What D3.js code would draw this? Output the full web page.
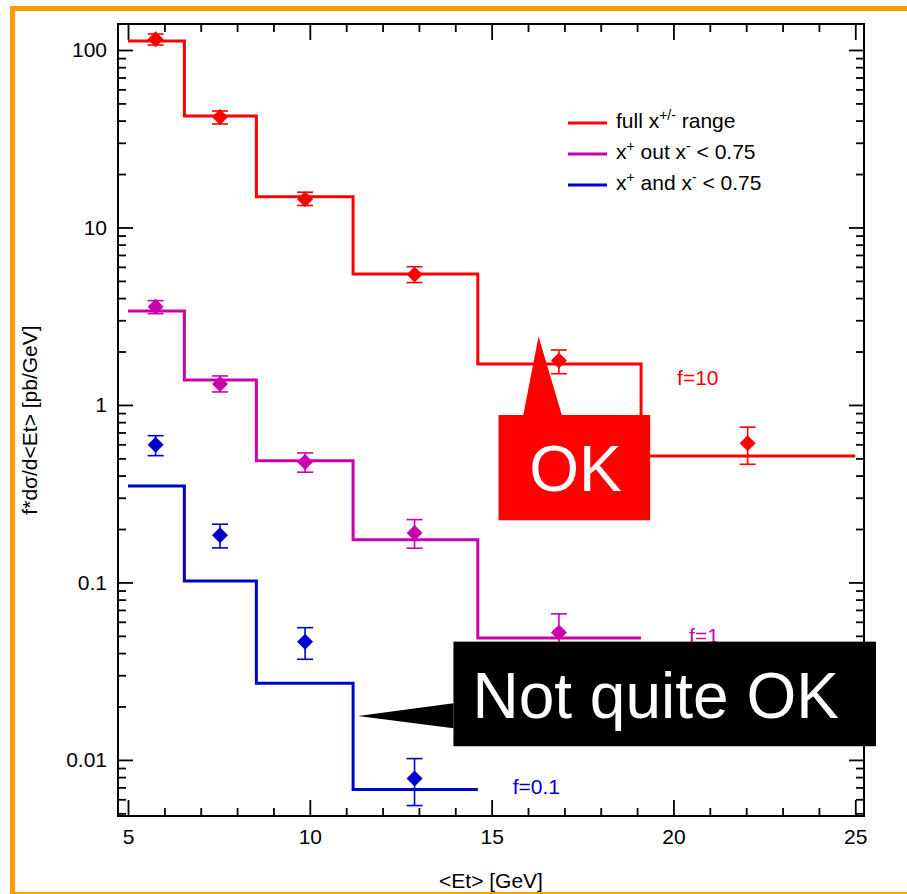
<!DOCTYPE html>
<html>
<head>
<meta charset="utf-8">
<script src="https://cdn.jsdelivr.net/npm/d3@7"></script>
<style>
	body { margin: 0; background: #fff; }
	text { font-family: "Liberation Sans", Arial, Helvetica, sans-serif; }
</style>
</head>
<body>
<div id="chart"></div>
<script>
// bin edges shared by the three histograms [GeV]
const binEdges = [5.0, 6.55, 8.53, 11.19, 14.62, 19.11, 25.0];
// histogram heights (already scaled by f)
const fullRange = [112.4, 42.5, 14.9, 5.47, 1.70, 0.516];
const outRange = [3.38, 1.383, 0.485, 0.1742, 0.0487];
const bothRange = [0.3498, 0.102, 0.02704, 0.006805];

// measured points
const pointX = [5.76, 7.53, 9.87, 12.88, 16.85, 22.04];
const fullPts = [114.9, 41.9, 14.4, 5.44, 1.78, 0.608];
const fullLo = [106.7, 38.3, 13.3, 4.89, 1.50, 0.463];
const fullHi = [123, 45.3, 15.8, 6.01, 2.04, 0.75];
const outPts = [3.57, 1.313, 0.4776, 0.190, 0.0522];
const outLo = [3.27, 1.184, 0.418, 0.1559, 0.040];
const outHi = [3.87, 1.457, 0.5366, 0.2259, 0.0665];
const bothPts = [0.5975, 0.1845, 0.04639, 0.00785];
const bothLo = [0.518, 0.1565, 0.0369, 0.00553];
const bothHi = [0.671, 0.2128, 0.0556, 0.01017];

const seriesNames = ["full", "out", "both"];
const factorLabels = ["f=10", "f=1", "f=0.1"];
const xTicks = [5, 10, 15, 20, 25];
const yTicks = [100, 10, 1, 0.1, 0.01];

let width = 907, height = 894;
let colors = { full: "#ff0000", out: "#cc00aa", both: "#0000cc" };

let svg = d3.select("#chart").append("svg")
	.attr("width", width)
	.attr("height", height);

// orange page frame
svg.append("rect")
	.attr("x", 12.5).attr("y", 8.5)
	.attr("width", 1000).attr("height", 886)
	.attr("fill", "none")
	.attr("stroke", "#ff9900")
	.attr("stroke-width", 5);

let pLeft = 118, pRight = 864, pTop = 24, pBottom = 816;

let x = d3.scaleLinear().domain([4.725, 25.24]).range([pLeft, pRight]);
let y = d3.scaleLog().domain([0.00483, 140.1]).range([pBottom, pTop]);

// minor tick positions
let xMinor = d3.range(5, 26, 1).filter(v => xTicks.indexOf(v) < 0);
let yMinor = [];
[0.001, 0.01, 0.1, 1, 10, 100].forEach(d => {
	for (let m = 2; m <= 9; m++) {
		let v = d * m;
		if (v > y.domain()[0] && v < y.domain()[1]) yMinor.push(v);
	}
});

function styleAxis(g) {
	g.select(".domain").remove();
	g.selectAll("line").attr("stroke", "#000").attr("stroke-width", 1.8);
	g.selectAll("text").attr("fill", "#000").style("font-size", "21px");
}

// bottom / top
svg.append("g").attr("transform", "translate(0," + pBottom + ")")
	.call(d3.axisBottom(x).tickValues(xTicks).tickSize(-16).tickPadding(13).tickFormat(d3.format("d")))
	.call(styleAxis);
svg.append("g").attr("transform", "translate(0," + pBottom + ")")
	.call(d3.axisBottom(x).tickValues(xMinor).tickSize(-8).tickFormat(""))
	.call(styleAxis);
svg.append("g").attr("transform", "translate(0," + pTop + ")")
	.call(d3.axisTop(x).tickValues(xTicks).tickSize(-16).tickFormat(""))
	.call(styleAxis);
svg.append("g").attr("transform", "translate(0," + pTop + ")")
	.call(d3.axisTop(x).tickValues(xMinor).tickSize(-8).tickFormat(""))
	.call(styleAxis);

// left / right
svg.append("g").attr("transform", "translate(" + pLeft + ",0)")
	.call(d3.axisLeft(y).tickValues(yTicks).tickSize(-15).tickPadding(11).tickFormat(d => String(d)))
	.call(styleAxis);
svg.append("g").attr("transform", "translate(" + pLeft + ",0)")
	.call(d3.axisLeft(y).tickValues(yMinor).tickSize(-8).tickFormat(""))
	.call(styleAxis);
svg.append("g").attr("transform", "translate(" + pRight + ",0)")
	.call(d3.axisRight(y).tickValues(yTicks).tickSize(-15).tickFormat(""))
	.call(styleAxis);
svg.append("g").attr("transform", "translate(" + pRight + ",0)")
	.call(d3.axisRight(y).tickValues(yMinor).tickSize(-8).tickFormat(""))
	.call(styleAxis);

svg.append("rect")
	.attr("x", pLeft).attr("y", pTop)
	.attr("width", pRight - pLeft).attr("height", pBottom - pTop)
	.attr("fill", "none").attr("stroke", "#000").attr("stroke-width", 2);

// axis titles
svg.append("text")
	.attr("x", (pLeft + pRight) / 2).attr("y", 888)
	.attr("text-anchor", "middle")
	.style("font-size", "21px")
	.text("<Et> [GeV]");
svg.append("text")
	.attr("transform", "translate(37," + (pTop + pBottom) / 2 + ") rotate(-90)")
	.attr("text-anchor", "middle")
	.style("font-size", "21px")
	.text("f*dσ/d<Et> [pb/GeV]");

// histograms
let stepLine = d3.line()
	.x(d => x(d[0]))
	.y(d => y(d[1]))
	.curve(d3.curveStepAfter);

let hists = { full: fullRange, out: outRange, both: bothRange };
seriesNames.forEach(name => {
	let vals = hists[name];
	let pts = vals.map((v, i) => [binEdges[i], v]);
	pts.push([binEdges[vals.length], vals[vals.length - 1]]);
	svg.append("path")
		.attr("d", stepLine(pts))
		.attr("fill", "none")
		.attr("stroke", colors[name])
		.attr("stroke-width", 3);
});

// points with error bars
let points = {
	full: { v: fullPts, lo: fullLo, hi: fullHi },
	out: { v: outPts, lo: outLo, hi: outHi },
	both: { v: bothPts, lo: bothLo, hi: bothHi }
};
let diamond = d3.symbol().type(d3.symbolSquare).size(128);
seriesNames.forEach(name => {
	let p = points[name];
	let g = svg.append("g").attr("stroke", colors[name]).attr("fill", colors[name]);
	p.v.forEach((v, i) => {
		let cx = x(pointX[i]);
		g.append("line")
			.attr("x1", cx).attr("x2", cx)
			.attr("y1", y(p.lo[i])).attr("y2", y(p.hi[i]))
			.attr("stroke-width", 1.6);
		[p.lo[i], p.hi[i]].forEach(e => {
			g.append("line")
				.attr("x1", cx - 8).attr("x2", cx + 8)
				.attr("y1", y(e)).attr("y2", y(e))
				.attr("stroke-width", 1.6);
		});
		g.append("path")
			.attr("d", diamond())
			.attr("stroke", "none")
			.attr("transform", "translate(" + cx + "," + y(v) + ") rotate(45)");
	});
});

// factor labels
let labelAt = { full: [20.1, 1.296], out: [20.43, 0.0456], both: [15.58, 0.00643] };
seriesNames.forEach((name, i) => {
	svg.append("text")
		.attr("x", x(labelAt[name][0])).attr("y", y(labelAt[name][1]))
		.attr("fill", colors[name])
		.style("font-size", "21px")
		.text(factorLabels[i]);
});

// legend
let legend = svg.append("g").attr("transform", "translate(568,123)");
let legendRows = [
	[["full x", 0], ["+/-", 1], [" range", 0]],
	[["x", 0], ["+", 1], [" out x", 0], ["-", 1], [" < 0.75", 0]],
	[["x", 0], ["+", 1], [" and x", 0], ["-", 1], [" < 0.75", 0]]
];
seriesNames.forEach((name, i) => {
	let row = legend.append("g").attr("transform", "translate(0," + i * 31 + ")");
	row.append("line")
		.attr("x1", 0).attr("x2", 39)
		.attr("stroke", colors[name]).attr("stroke-width", 3);
	let t = row.append("text").attr("x", 48).attr("y", 5).style("font-size", "21px");
	legendRows[i].forEach(part => {
		let ts = t.append("tspan").text(part[0]);
		if (part[1]) ts.attr("baseline-shift", "super").style("font-size", "14px");
	});
});

// callouts
function callout(box, tip, base, label, fill, textColor, align) {
	let x0 = x(box[0]), x1 = x(box[1]), y0 = y(box[2]), y1 = y(box[3]);
	let g = svg.append("g");
	g.append("rect")
		.attr("x", x0).attr("y", y0)
		.attr("width", x1 - x0).attr("height", y1 - y0)
		.attr("fill", fill);
	let tri = [[x(tip[0]), y(tip[1])]].concat(base.map(b => [x(b[0]), y(b[1])]));
	g.append("path")
		.attr("d", "M" + tri.join("L") + "Z")
		.attr("fill", fill);
	g.append("text")
		.attr("x", align === "middle" ? (x0 + x1) / 2 + 1 : x0 + 19)
		.attr("y", (y0 + y1) / 2)
		.attr("dy", "0.37em")
		.attr("text-anchor", align)
		.attr("fill", textColor)
		.style("font-size", "64px")
		.text(label);
}

callout([15.19, 19.36, 0.878, 0.224], [16.29, 2.43], [[15.87, 0.878], [16.93, 0.878]],
	"OK", "#ff0000", "#fff", "middle");
callout([13.95, 25.57, 0.04638, 0.01194], [11.33, 0.0177], [[13.95, 0.02086], [13.95, 0.0151]],
	"Not quite OK", "#000", "#fff", "start");
</script>
</body>
</html>
